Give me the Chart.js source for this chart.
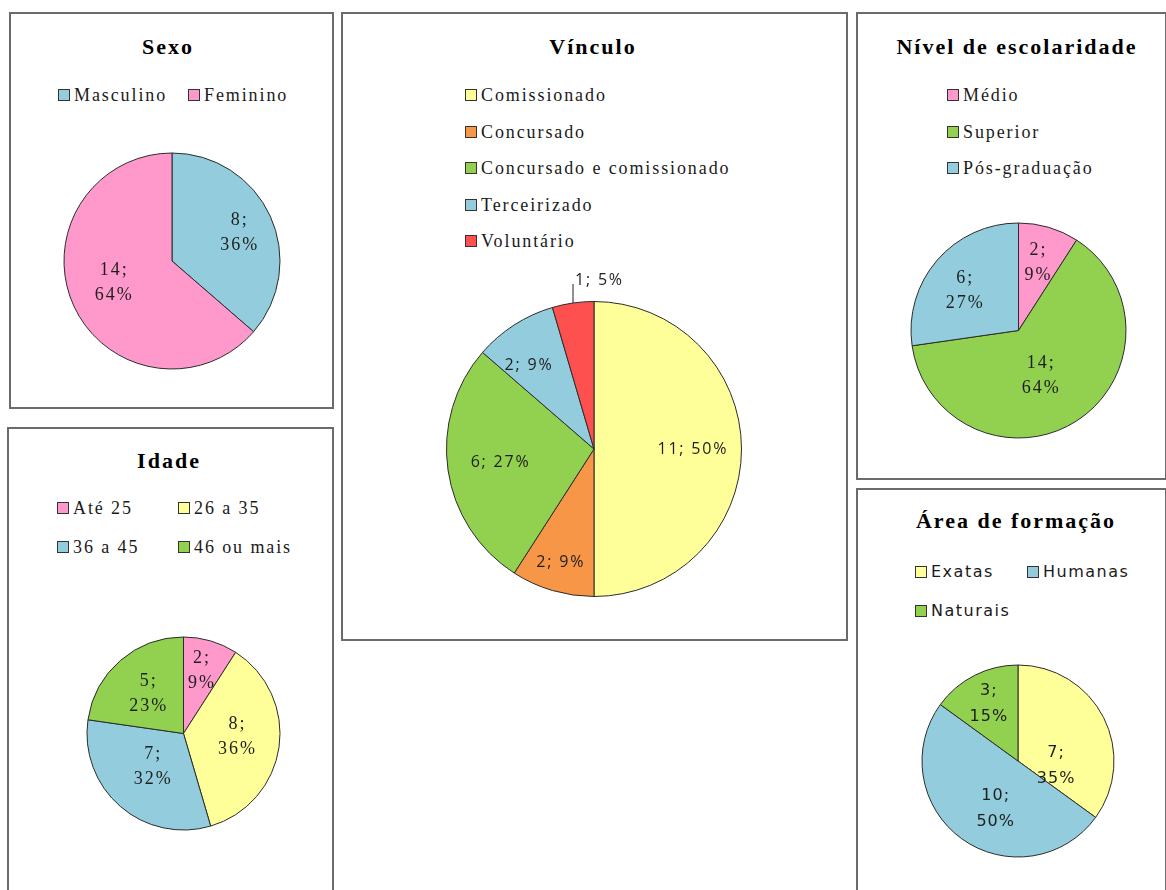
<!DOCTYPE html>
<html lang="pt">
<head>
<meta charset="UTF-8">
<title>Perfil dos participantes</title>
<script src="https://cdn.jsdelivr.net/npm/chart.js"></script>
<style>
    body {
        margin: 0;
        background: #fff;
        width: 1166px;
        height: 890px;
        overflow: hidden;
        position: relative;
    }
    .box {
        position: absolute;
        border: 2px solid #6b6b6b;
        box-sizing: border-box;
    }
    .title {
        position: absolute;
        font-family: "Liberation Serif", serif;
        font-weight: bold;
        font-size: 22px;
        line-height: 22px;
        letter-spacing: 2px;
        color: #000;
        white-space: nowrap;
        transform: translateX(-50%);
    }
    .leg {
        position: absolute;
        display: flex;
        align-items: center;
        height: 18px;
        line-height: 18px;
        white-space: nowrap;
        color: #1a1a1a;
    }
    .leg .sw {
        width: 10px;
        height: 10px;
        border: 1px solid #333;
        margin-right: 4px;
        flex: none;
    }
    .serif { font-family: "Liberation Serif", serif; font-size: 18px; letter-spacing: 1.9px; }
    .sans { font-family: "DejaVu Sans", sans-serif; font-size: 16px; letter-spacing: 1.5px; }
    canvas { position: absolute; }
</style>
</head>
<body>

<script>
// dados
const sexoLabels = ['Masculino', 'Feminino'];
const sexoValues = [8, 14];

const vinculoLabels = ['Comissionado', 'Concursado', 'Concursado e comissionado', 'Terceirizado', 'Voluntário'];
const vinculoValues = [11, 2, 6, 2, 1];

const nivelLabels = ['Médio', 'Superior', 'Pós-graduação'];
const nivelValues = [2, 14, 6];

const idadeLabels = ['Até 25', '26 a 35', '36 a 45', '46 ou mais'];
const idadeValues = [2, 8, 7, 5];

const areaLabels = ['Exatas', 'Humanas', 'Naturais'];
const areaValues = [7, 10, 3];

const pink = '#FF99CC', blue = '#93CDDD', yellow = '#FFFF99',
      green = '#92D050', orange = '#F79646', red = '#FF5050';

// molduras
const boxes = [
    [9, 12, 325, 397],
    [341, 12, 507, 629],
    [856, 12, 311, 468],
    [7, 427, 327, 480],
    [856, 488, 311, 420]
];
boxes.forEach(b => {
    const d = document.createElement('div');
    d.className = 'box';
    d.style.left = b[0] + 'px'; d.style.top = b[1] + 'px';
    d.style.width = b[2] + 'px'; d.style.height = b[3] + 'px';
    document.body.appendChild(d);
});

// rótulos das fatias
const sliceLabels = {
    id: 'sliceLabels',
    afterDatasetsDraw(chart, args, opts) {
        const ctx = chart.ctx;
        const meta = chart.getDatasetMeta(0);
        const vals = chart.data.datasets[0].data;
        const total = vals.reduce((a, b) => a + b, 0);
        ctx.save();
        ctx.font = opts.font;
        ctx.letterSpacing = opts.spacing;
        ctx.fillStyle = '#1e1e1e';
        ctx.textBaseline = 'middle';
        meta.data.forEach((arc, i) => {
            const p = arc.getProps(['x', 'y', 'startAngle', 'endAngle', 'outerRadius'], true);
            const pos = opts.pos[i];
            const a = (p.startAngle + p.endAngle) / 2 + (pos[1] || 0) * Math.PI / 180;
            const pct = Math.round(vals[i] / total * 100) + '%';
            const lines = opts.twoLines ? [vals[i] + ';', pct] : [vals[i] + '; ' + pct];
            if (pos[2] === 'out') {
                const ex = p.x + Math.cos(a) * p.outerRadius;
                const ey = p.y + Math.sin(a) * p.outerRadius;
                ctx.strokeStyle = '#222';
                ctx.lineWidth = 1;
                ctx.beginPath();
                ctx.moveTo(ex, ey);
                ctx.lineTo(ex, ey - 19);
                ctx.stroke();
                ctx.textAlign = 'left';
                ctx.fillText(lines[0], ex + 2, ey - 23);
                return;
            }
            ctx.textAlign = 'center';
            const x = p.x + Math.cos(a) * p.outerRadius * pos[0];
            const y = p.y + Math.sin(a) * p.outerRadius * pos[0];
            lines.forEach((t, k) => {
                ctx.fillText(t, x, y + (k - (lines.length - 1) / 2) * opts.lineH);
            });
        });
        ctx.restore();
    }
};

const serifLbl = '18px "Liberation Serif"';

const charts = [
    {title: 'Sexo', tx: 168, ty: 54, labels: sexoLabels, values: sexoValues, colors: [blue, pink],
     legend: {x: 58, y: 95, cols: 2, colW: 130, rowH: 37, cls: 'serif'},
     pie: {cx: 171.5, cy: 261, r: 108},
     lbl: {font: serifLbl, spacing: '2px', twoLines: true, lineH: 25, pos: [[0.68, 2], [0.57, 4]]}},
    {title: 'Vínculo', tx: 593, ty: 54, labels: vinculoLabels, values: vinculoValues,
     colors: [yellow, orange, green, blue, red],
     legend: {x: 465, y: 95, cols: 1, colW: 0, rowH: 36.6, cls: 'serif'},
     pie: {cx: 594, cy: 449, r: 147.5}, size: 390,
     lbl: {font: '16px "Open Sans"', spacing: '1.8px', twoLines: false, lineH: 20,
           pos: [[0.67, 0], [0.8, 0], [0.64, 0], [0.72, -5], [1, 0, 'out']]}},
    {title: 'Nível de escolaridade', tx: 1017, ty: 54, labels: nivelLabels, values: nivelValues,
     colors: [pink, green, blue],
     legend: {x: 947, y: 95, cols: 1, colW: 0, rowH: 36.5, cls: 'serif'},
     pie: {cx: 1018, cy: 330.5, r: 107.5},
     lbl: {font: serifLbl, spacing: '2px', twoLines: true, lineH: 25, pos: [[0.66, 0], [0.47, 6], [0.62, -4]]}},
    {title: 'Idade', tx: 169, ty: 468, labels: idadeLabels, values: idadeValues,
     colors: [pink, yellow, blue, green],
     legend: {x: 57, y: 508, cols: 2, colW: 121, rowH: 38.5, cls: 'serif'},
     pie: {cx: 183, cy: 733.5, r: 96.5},
     lbl: {font: serifLbl, spacing: '2px', twoLines: true, lineH: 25,
           pos: [[0.68, 0], [0.56, -5], [0.47, 1], [0.55, 0]]}},
    {title: 'Área de formação', tx: 1016, ty: 528, labels: areaLabels, values: areaValues,
     colors: [yellow, blue, green],
     legend: {x: 915, y: 572, cols: 2, colW: 112, rowH: 39, cls: 'sans'},
     pie: {cx: 1017.5, cy: 761, r: 96},
     lbl: {font: '16px "DejaVu Sans"', spacing: '1px', twoLines: true, lineH: 26,
           pos: [[0.4, 34], [0.55, -11], [0.67, 0]]}}
];

function makePie(cfg) {
    const S = cfg.size || Math.round(cfg.pie.r * 2 + 20);
    const cv = document.createElement('canvas');
    cv.width = S; cv.height = S;
    cv.style.left = (cfg.pie.cx - S / 2) + 'px';
    cv.style.top = (cfg.pie.cy - S / 2) + 'px';
    cv.style.width = S + 'px'; cv.style.height = S + 'px';
    document.body.appendChild(cv);

    const chart = new Chart(cv, {
        type: 'pie',
        data: {
            labels: cfg.labels,
            datasets: [{
                data: cfg.values,
                backgroundColor: cfg.colors,
                borderColor: '#2b2b2b',
                borderWidth: 1
            }]
        },
        options: {
            responsive: false,
            animation: false,
            radius: cfg.pie.r,
            layout: {padding: 0},
            plugins: {
                legend: {display: false},
                tooltip: {enabled: false},
                sliceLabels: cfg.lbl
            }
        },
        plugins: [sliceLabels]
    });

    // título
    const t = document.createElement('div');
    t.className = 'title';
    t.textContent = cfg.title;
    t.style.left = cfg.tx + 'px';
    t.style.top = (cfg.ty - 18.4) + 'px';
    document.body.appendChild(t);

    // legenda a partir dos itens do próprio gráfico
    const items = Chart.overrides.pie.plugins.legend.labels.generateLabels(chart);
    const L = cfg.legend;
    items.forEach((it, i) => {
        const col = i % L.cols, row = Math.floor(i / L.cols);
        const d = document.createElement('div');
        d.className = 'leg ' + L.cls;
        d.style.left = (L.x + col * L.colW) + 'px';
        d.style.top = (L.y + row * L.rowH - 9) + 'px';
        const sw = document.createElement('span');
        sw.className = 'sw';
        sw.style.background = it.fillStyle;
        d.appendChild(sw);
        d.appendChild(document.createTextNode(it.text));
        document.body.appendChild(d);
    });
}

window.onload = function() {
    charts.forEach(makePie);
};
</script>

</body>
</html>
